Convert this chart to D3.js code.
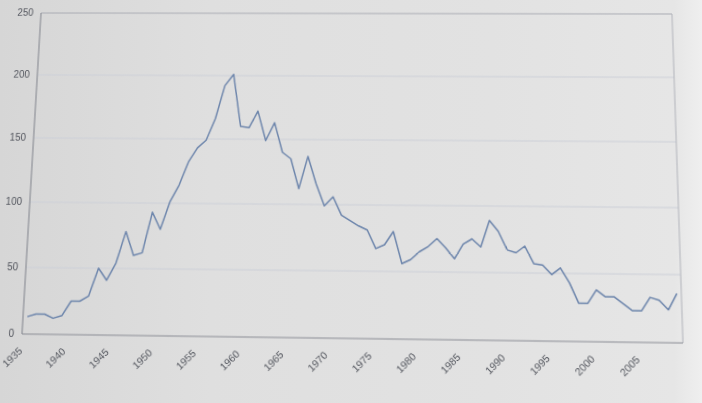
<!DOCTYPE html>
<html><head><meta charset="utf-8">
<script src="https://cdn.jsdelivr.net/npm/d3@7"></script>
<style>
html,body{margin:0;padding:0;width:702px;height:403px;overflow:hidden;}
body{background:linear-gradient(90deg,#d6d6d6 0%,#dfdfdf 30%,#e2e2e2 70%,#e6e6e6 96%,#efefef 100%);}
#chart{position:absolute;left:0;top:0;transform-origin:0 0;}
text{font-family:"Liberation Sans",Arial,sans-serif;font-size:10px;fill:#51545c;}
</style></head><body>
<svg id="chart" width="702" height="403"></svg>
<script>
// ---- data ----
const years = [1935,1936,1937,1938,1939,1940,1941,1942,1943,1944,1945,1946,1947,1948,1949,
1950,1951,1952,1953,1954,1955,1956,1957,1958,1959,1960,1961,1962,1963,1964,1965,1966,1967,1968,1969,
1970,1971,1972,1973,1974,1975,1976,1977,1978,1979,1980,1981,1982,1983,1984,1985,1986,1987,1988,1989,
1990,1991,1992,1993,1994,1995,1996,1997,1998,1999,2000,2001,2002,2003,2004,2005,2006,2007,2008,2009];
const values = [13,15,15,12,14,25,25,29,50,41,54,78,60,62,93,80,101,114,132,143,149,166,192,201,160,
159,172,149,163,140,135,112,137,116,99,106,92,88,84,81,67,70,80,56,59,65,69,75,68,60,71,75,69,89,81,
67,65,70,57,56,49,54,43,28,28,38,33,33,28,23,23,33,31,24,36];
const xTickYears = [1935,1940,1945,1950,1955,1960,1965,1970,1975,1980,1985,1990,1995,2000,2005];
const yTicks = [0,50,100,150,200,250];

// ---- flat layout ----
const L = 30, T = 13, R = 678, B = 338;
const svg = d3.select("#chart");
const x = d3.scaleBand().domain(years).range([L, R]).padding(0);
const y = d3.scaleLinear().domain([0, 250]).range([B, T]);

// gridlines
svg.append("g").selectAll("line").data(yTicks.filter(v => v > 0 && v < 250)).join("line")
  .attr("x1", L).attr("x2", R).attr("y1", d => y(d)).attr("y2", d => y(d))
  .attr("stroke", "#cdd0d8").attr("stroke-width", 1);

// frame
svg.append("line").attr("x1", L).attr("x2", R).attr("y1", T).attr("y2", T).attr("stroke", "#a9abb3");
svg.append("line").attr("x1", R).attr("x2", R).attr("y1", T).attr("y2", B).attr("stroke", "#b3b5bc");
svg.append("line").attr("x1", L).attr("x2", L).attr("y1", T).attr("y2", B).attr("stroke", "#8e9098").attr("stroke-width", 1.2);
svg.append("line").attr("x1", L).attr("x2", R).attr("y1", B).attr("y2", B).attr("stroke", "#8e9098").attr("stroke-width", 1.2);

// y labels
svg.append("g").selectAll("text").data(yTicks).join("text")
  .attr("x", L - 8).attr("y", d => y(d)).attr("dy", "0.35em")
  .attr("text-anchor", "end").text(d => d);

// x labels
svg.append("g").selectAll("text").data(xTickYears).join("text")
  .attr("transform", d => `translate(${x(d) + 2},${B + 17}) rotate(-45)`)
  .attr("text-anchor", "end").text(d => d);

// line
const line = d3.line().x((d, i) => x(years[i]) + x.bandwidth() / 2).y(d => y(d));
svg.append("path").datum(values).attr("d", line)
  .attr("fill", "none").attr("stroke", "#6e86ac").attr("stroke-width", 1.5)
  .attr("stroke-linejoin", "round");

// ---- photo perspective (homography of the plot frame) ----
function solve(A, b) {
  const n = b.length;
  for (let i = 0; i < n; i++) {
    let p = i;
    for (let r = i + 1; r < n; r++) if (Math.abs(A[r][i]) > Math.abs(A[p][i])) p = r;
    [A[i], A[p]] = [A[p], A[i]]; [b[i], b[p]] = [b[p], b[i]];
    for (let r = i + 1; r < n; r++) {
      const f = A[r][i] / A[i][i];
      for (let c = i; c < n; c++) A[r][c] -= f * A[i][c];
      b[r] -= f * b[i];
    }
  }
  const xs = new Array(n).fill(0);
  for (let i = n - 1; i >= 0; i--) {
    let s = b[i];
    for (let c = i + 1; c < n; c++) s -= A[i][c] * xs[c];
    xs[i] = s / A[i][i];
  }
  return xs;
}
const src = [[L, T], [R, T], [L, B], [R, B]];
const dst = [[41, 13], [672, 14], [22, 334], [683, 343]];
const A = [], bb = [];
src.forEach(([sx, sy], k) => {
  const [u, v] = dst[k];
  A.push([sx, sy, 1, 0, 0, 0, -sx * u, -sy * u]); bb.push(u);
  A.push([0, 0, 0, sx, sy, 1, -sx * v, -sy * v]); bb.push(v);
});
const [a, b2, c, d, e, f, g, h] = solve(A, bb);
document.getElementById("chart").style.transform =
  `matrix3d(${a},${d},0,${g},${b2},${e},0,${h},0,0,1,0,${c},${f},0,1)`;
</script>
</body></html>
